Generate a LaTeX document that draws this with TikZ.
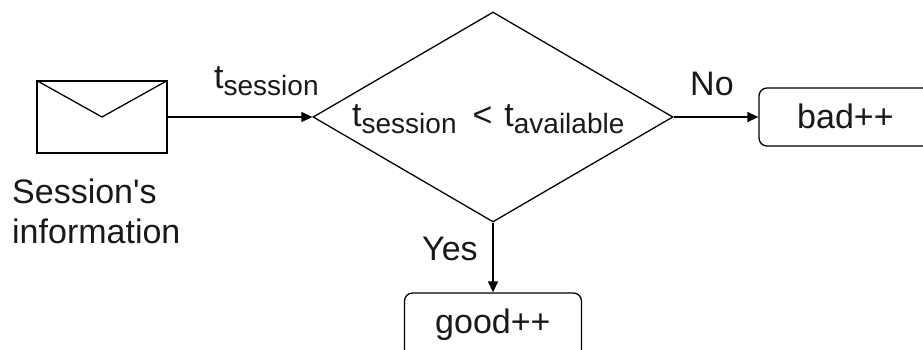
\documentclass[tikz,border=0pt]{standalone}
\usepackage{fontspec}
\setmainfont{Liberation Sans}[Ligatures=TeXOff]
\usetikzlibrary{shapes.geometric,arrows.meta}
\newcommand{\lbl}{\fontsize{34}{40}\selectfont}
\newcommand{\subt}[1]{\raisebox{-7.5pt}{\fontsize{28}{30}\selectfont #1}}
\tikzset{
  x=1pt,y=-1pt,
  shapeline/.style={draw=black,line width=1.3pt},
  flow/.style={draw=black,line width=1.3pt,-{Triangle[length=11pt,width=10pt]}},
  txt/.style={inner sep=0pt,text=black!90,font=\lbl},
  envbox/.style={shapeline,rectangle,inner sep=0pt,minimum width=130pt,minimum height=72pt},
  decision/.style={shapeline,diamond,inner sep=0pt,minimum width=360pt,minimum height=210pt},
  outcome/.style={shapeline,rectangle,rounded corners=8pt,inner sep=0pt}
}
\begin{document}
\begin{tikzpicture}
\useasboundingbox (0,0) rectangle (923,349);
\clip (0,0) rectangle (923,349);
\node[envbox] (env) at (102,117) {};
\coordinate (flapL) at (env.north west);
\coordinate (flapR) at (env.north east);
\coordinate (flapM) at (env.center);
\draw[shapeline,line join=miter] (flapL) -- (flapM) -- (flapR);
\node[decision] (dec) at (493,117) {};
\node[outcome,minimum width=190pt,minimum height=58pt] (bad) at (854,117) {};
\node[outcome,minimum width=177pt,minimum height=70pt] (good) at (493,328) {};
\draw[flow] (env.east) -- (dec.west);
\draw[flow] (dec.east) -- (bad.west);
\draw[flow] (dec.south) -- (good.north);
\node[txt,anchor=base west] (badt) at (797,128) {bad++};
\node[txt,anchor=base west] (goodt) at (435,333) {good++};
\node[txt,anchor=base west] (tsess) at (214,88) {t\subt{session}};
\node[txt,anchor=base west] (cond) at (352,126) {t\subt{session}\hspace{16pt}<\hspace{12pt}t\subt{available}};
\node[txt,anchor=base west] (no) at (690,95) {No};
\node[txt,anchor=base west] (yes) at (422,260) {Yes};
\node[txt,anchor=base west] (s1) at (12,203) {Session's};
\node[txt,anchor=base west] (s2) at (12,243) {information};
\end{tikzpicture}
\end{document}
